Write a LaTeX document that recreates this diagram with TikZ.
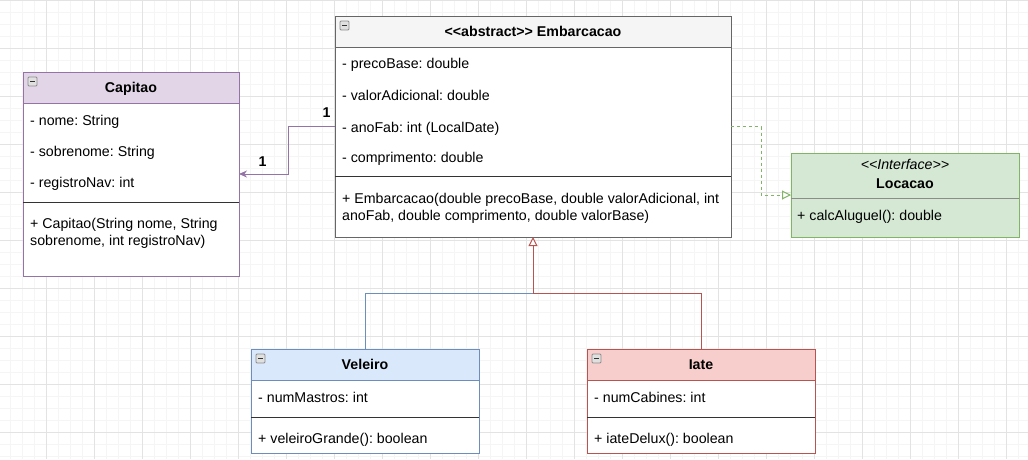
\documentclass[tikz,border=0pt]{standalone}
\usepackage{fontspec}
\setmainfont{Liberation Sans}
\usepackage{tikz}
\usetikzlibrary{arrows.meta, positioning}
\definecolor{capfill}{HTML}{E1D5E7}
\definecolor{capline}{HTML}{9673A6}
\definecolor{embfill}{HTML}{F5F5F5}
\definecolor{embline}{HTML}{666666}
\definecolor{locfill}{HTML}{D5E8D4}
\definecolor{locline}{HTML}{82B366}
\definecolor{velfill}{HTML}{DAE8FC}
\definecolor{velline}{HTML}{6C8EBF}
\definecolor{iatefill}{HTML}{F8CECC}
\definecolor{iateline}{HTML}{B85450}
\definecolor{sepgray}{HTML}{333333}
\newcommand{\stereo}[1]{<\kern0pt<#1>\kern0pt>}

\begin{document}
\frenchspacing
\fontsize{14.2}{17}\selectfont
\begin{tikzpicture}[x=1pt, y=-1pt, >=Stealth,
  box/.style={draw, line width=1pt, fill=white, inner sep=0pt, outer sep=0pt, anchor=north west},
  head/.style={box, font=\bfseries, text height=10.2pt, text depth=0pt},
  member/.style={anchor=west, inner sep=0pt, text height=10.2pt, text depth=0pt},
  method/.style={anchor=base west, inner sep=0pt, align=left},
  sep/.style={line width=1pt, sepgray},
  icon/.style={draw=black!45, fill=black!12, line width=0.8pt, rounded corners=1pt},
  gridminor/.style={line width=1pt, black!4},
  gridmajor/.style={line width=1pt, black!11},
  assoc/.style={line width=1pt, capline, -{Stealth[length=8pt, width=7pt]}},
  realize/.style={line width=1pt, locline, dash pattern=on 3pt off 3pt,
    -{Triangle[length=9pt, width=9pt, fill=white]}},
  gen/.style={line width=1pt}]
  \useasboundingbox (0,0) rectangle (1028,459);

  % mrizka
  \foreach \k in {0,...,86} \draw[gridminor] ({12*\k-1.5},0) -- ({12*\k-1.5},459);
  \foreach \k in {0,...,38} \draw[gridminor] (0,{12*\k+0.3}) -- (1028,{12*\k+0.3});
  \foreach \k in {0,...,21} \draw[gridmajor] ({48*\k-1.5},0) -- ({48*\k-1.5},459);
  \foreach \k in {0,...,9} \draw[gridmajor] (0,{48*\k+0.3}) -- (1028,{48*\k+0.3});

  % Capitao
  \node[box, draw=capline, minimum width=216pt, minimum height=204pt] (cap) at (23,72) {};
  \node[head, draw=capline, fill=capfill, minimum width=216pt, minimum height=31pt] (cap-h) at (cap.north west) {Capitao};
  \node[member] (cap-nome) at (30,120) {- nome: String};
  \node[member] (cap-sobre) at (30,151) {- sobrenome: String};
  \node[member] (cap-reg) at (30,182) {- registroNav: int};
  \draw[sep] (cap.west |- 0,202) -- (cap.east |- 0,202);
  \node[method] (cap-new) at (30,245) {+ Capitao(String nome, String\\sobrenome, int registroNav)};

  % Embarcacao
  \node[box, draw=embline, minimum width=396pt, minimum height=221pt] (emb) at (335,16) {};
  \node[head, draw=embline, fill=embfill, minimum width=396pt, minimum height=31pt] (emb-h) at (emb.north west) {\stereo{abstract} Embarcacao};
  \node[member] (emb-preco) at (342,63) {- precoBase: double};
  \node[member] (emb-valor) at (342,95) {- valorAdicional: double};
  \node[member] (emb-ano) at (342,127) {- anoFab: int (LocalDate)};
  \node[member] (emb-comp) at (342,157) {- comprimento: double};
  \draw[sep] (emb.west |- 0,176) -- (emb.east |- 0,176);
  \node[method] (emb-new) at (342,220) {+ Embarcacao(double precoBase, double valorAdicional, int\\anoFab, double comprimento, double valorBase)};

  % Locacao
  \node[box, draw=locline, fill=locfill, minimum width=228pt, minimum height=84pt] (loc) at (791,153) {};
  \node[member, anchor=center, font=\itshape] (loc-st) at (905,164) {\stereo{Interface}};
  \node[member, anchor=center, font=\bfseries] (loc-h) at (905,183) {Locacao};
  \draw[line width=1pt, black!45] (loc.west |- 0,198.3) -- (loc.east |- 0,198.3);
  \node[member] (loc-calc) at (797,215) {+ calcAluguel(): double};

  % Veleiro
  \node[box, draw=velline, minimum width=228pt, minimum height=104pt] (vel) at (251,349) {};
  \node[head, draw=velline, fill=velfill, minimum width=228pt, minimum height=31.5pt] (vel-h) at (vel.north west) {Veleiro};
  \node[member] (vel-mastros) at (258,397) {- numMastros: int};
  \draw[sep] (vel.west |- 0,417) -- (vel.east |- 0,417);
  \node[member] (vel-grande) at (258,438) {+ veleiroGrande(): boolean};

  % Iate
  \node[box, draw=iateline, minimum width=228pt, minimum height=104pt] (iate) at (587,349) {};
  \node[head, draw=iateline, fill=iatefill, minimum width=228pt, minimum height=31.5pt] (iate-h) at (iate.north west) {Iate};
  \node[member] (iate-cab) at (594,397) {- numCabines: int};
  \draw[sep] (iate.west |- 0,417) -- (iate.east |- 0,417);
  \node[member] (iate-delux) at (594,438) {+ iateDelux(): boolean};

  % ikonky
  \foreach \h in {cap-h, emb-h, vel-h, iate-h} {
    \draw[icon] ([shift={(5,5)}]\h.north west) rectangle ++(9,9);
    \draw[line width=1.4pt, black!80] ([shift={(7,9.5)}]\h.north west) -- ++(5,0);
  }

  % Vazby
  \draw[assoc] (emb.west) -- ++(-47,0)
    node[pos=0, member, anchor=south east, font=\bfseries, text=black, xshift=-4pt, yshift=8.5pt] {1}
    |- (cap.east)
    node[at end, member, anchor=south west, font=\bfseries, text=black, xshift=19pt, yshift=7pt] {1};
  \draw[realize] (emb.east) -- ++(30,0) |- (loc.west);
  \coordinate (join) at ([yshift=-56pt]emb.south);
  \draw[gen, draw=velline] (vel.north) |- (join);
  \draw[gen, draw=iateline, -{Triangle[length=9pt, width=9pt, fill=white]}] (iate.north) |- (join) -- (emb.south);
\end{tikzpicture}
\end{document}
